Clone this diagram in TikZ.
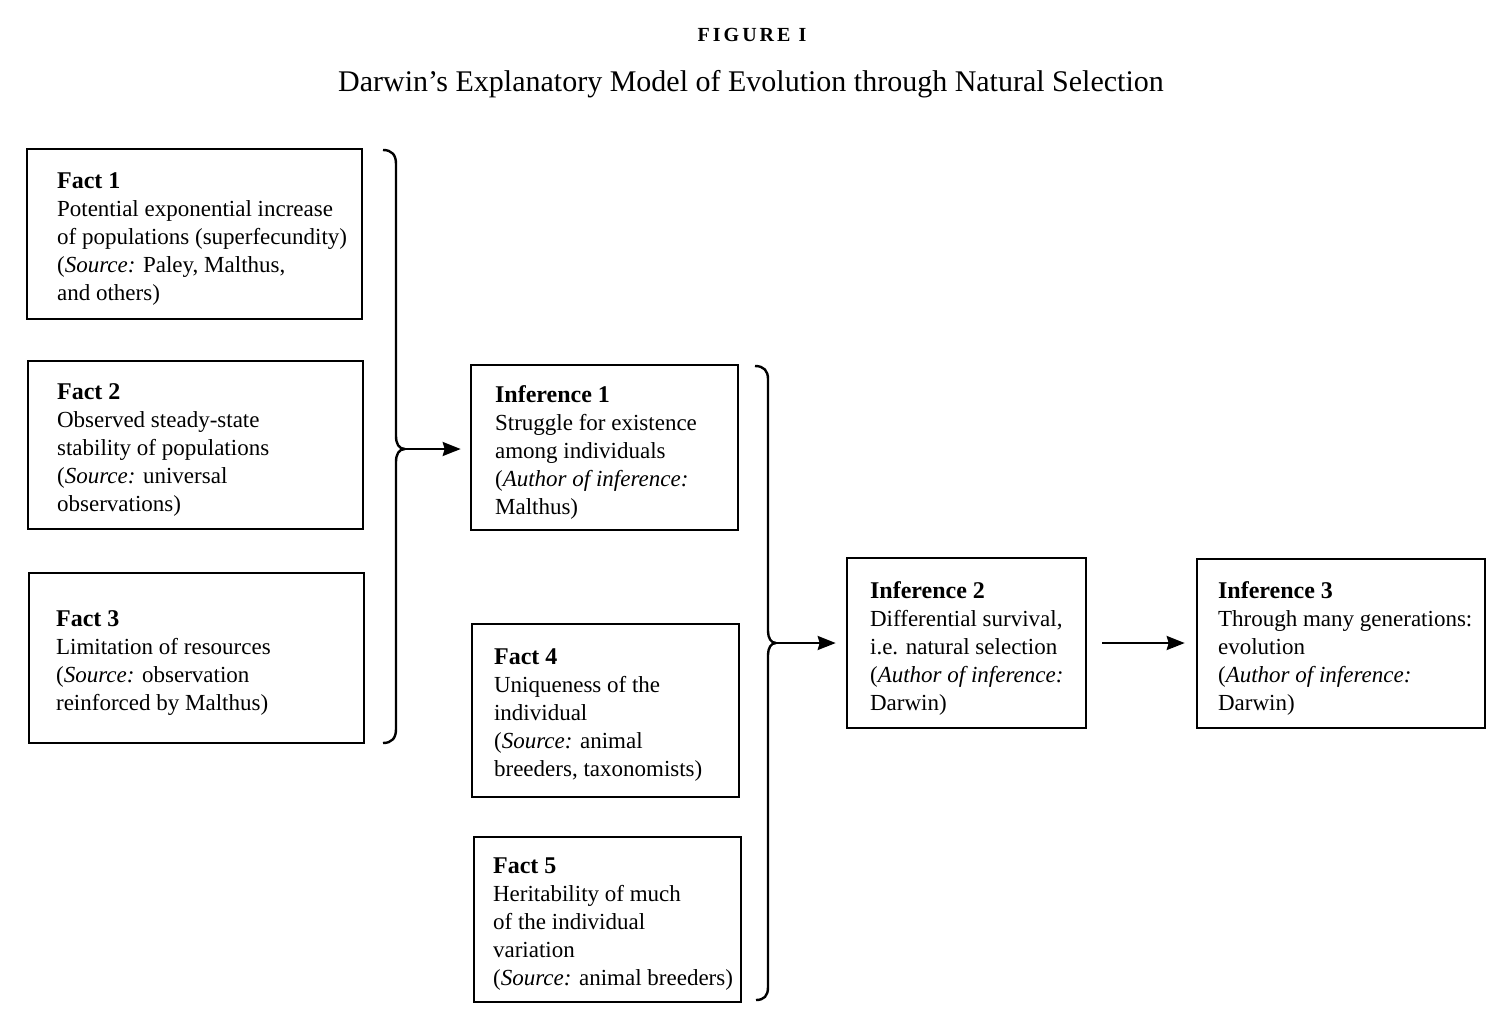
\documentclass[tikz,border=0pt]{standalone}
\usepackage{fontspec}
\setmainfont{Liberation Serif}
\usetikzlibrary{arrows.meta}
\newcommand\hd[1]{{\fontsize{12}{14}\selectfont\bfseries #1}}
\begin{document}
\begin{tikzpicture}[x=0.5pt,y=-0.5pt,
  boxframe/.style={draw, line width=1.3pt, inner sep=0pt},
  boxtext/.style={anchor=west, align=left, inner sep=0pt, font=\fontsize{11.5}{14}\selectfont, yshift=-2.5pt},
  bracepath/.style={line width=1.2pt, line join=round},
  arr/.style={line width=1.2pt, -{Stealth[length=9pt,width=7pt,inset=1pt]}}
]
\useasboundingbox (0,0) rectangle (1500,1022);

% titles
\node[anchor=base, inner sep=0pt, font=\fontsize{10}{12}\selectfont\bfseries\addfontfeature{LetterSpace=15}] (fig) at (752,42) {FIGURE I};
\node[anchor=base, inner sep=0pt, font=\fontsize{15}{18}\selectfont] (title) at (751,92) {Darwin’s Explanatory Model of Evolution through Natural Selection};

% boxes
\node[boxframe, minimum width=167.5pt, minimum height=85pt] (f1) at (194.5,234) {};
\node[boxframe, minimum width=167.5pt, minimum height=84pt] (f2) at (195.5,445) {};
\node[boxframe, minimum width=167.5pt, minimum height=85pt] (f3) at (196.5,658) {};
\node[boxframe, minimum width=133.5pt, minimum height=82.5pt] (inf1) at (604.5,447.5) {};
\node[boxframe, minimum width=133.5pt, minimum height=86.5pt] (f4) at (605.5,710.5) {};
\node[boxframe, minimum width=133.5pt, minimum height=82.5pt] (f5) at (607.5,919.5) {};
\node[boxframe, minimum width=119.5pt, minimum height=85pt] (inf2) at (966.5,643) {};
\node[boxframe, minimum width=144pt, minimum height=84.5pt] (inf3) at (1341,643.5) {};

% texts
\node[boxtext] (f1t) at ([xshift=15.5pt]f1.west) {\hd{Fact 1}\\Potential exponential increase\\of populations (superfecundity)\\(\textit{Source:} Paley, Malthus,\\and others)};
\node[boxtext] (f2t) at ([xshift=15pt]f2.west) {\hd{Fact 2}\\Observed steady-state\\stability of populations\\(\textit{Source:} universal\\observations)};
\node[boxtext] (f3t) at ([xshift=14pt]f3.west) {\hd{Fact 3}\\Limitation of resources\\(\textit{Source:} observation\\reinforced by Malthus)};
\node[boxtext] (inf1t) at ([xshift=12.5pt]inf1.west) {\hd{Inference 1}\\Struggle for existence\\among individuals\\(\textit{Author of inference:}\\Malthus)};
\node[boxtext] (f4t) at ([xshift=11.5pt]f4.west) {\hd{Fact 4}\\Uniqueness of the\\individual\\(\textit{Source:} animal\\breeders, taxonomists)};
\node[boxtext] (f5t) at ([xshift=10pt]f5.west) {\hd{Fact 5}\\Heritability of much\\of the individual\\variation\\(\textit{Source:} animal breeders)};
\node[boxtext] (inf2t) at ([xshift=12pt]inf2.west) {\hd{Inference 2}\\Differential survival,\\i.e. natural selection\\(\textit{Author of inference:}\\Darwin)};
\node[boxtext] (inf3t) at ([xshift=11pt]inf3.west) {\hd{Inference 3}\\Through many generations:\\evolution\\(\textit{Author of inference:}\\Darwin)};

% brace 1
\coordinate (b1) at (405,449);
\draw[bracepath] (383,150) .. controls (392,150) and (396,155) .. (396,164)
  -- (396,436) .. controls (396,444) and (399,449) .. (b1)
  .. controls (399,449) and (396,454) .. (396,462)
  -- (396,729) .. controls (396,738) and (392,743) .. (383,743);
\draw[arr, shorten >=4.5pt] (b1) -- (b1 -| inf1.west);

% brace 2
\coordinate (b2) at (776,643);
\draw[bracepath] (755,366) .. controls (764,366) and (768,371) .. (768,379)
  -- (768,631) .. controls (768,638) and (771,643) .. (b2)
  .. controls (771,643) and (768,648) .. (768,655)
  -- (768,987) .. controls (768,996) and (764,1000) .. (756,1000);
\draw[arr, shorten >=5pt] (b2) -- (b2 -| inf2.west);

% arrow 3
\draw[arr, shorten <=7.5pt, shorten >=5.5pt] (inf2.east) -- (inf2.east -| inf3.west);
\end{tikzpicture}
\end{document}
